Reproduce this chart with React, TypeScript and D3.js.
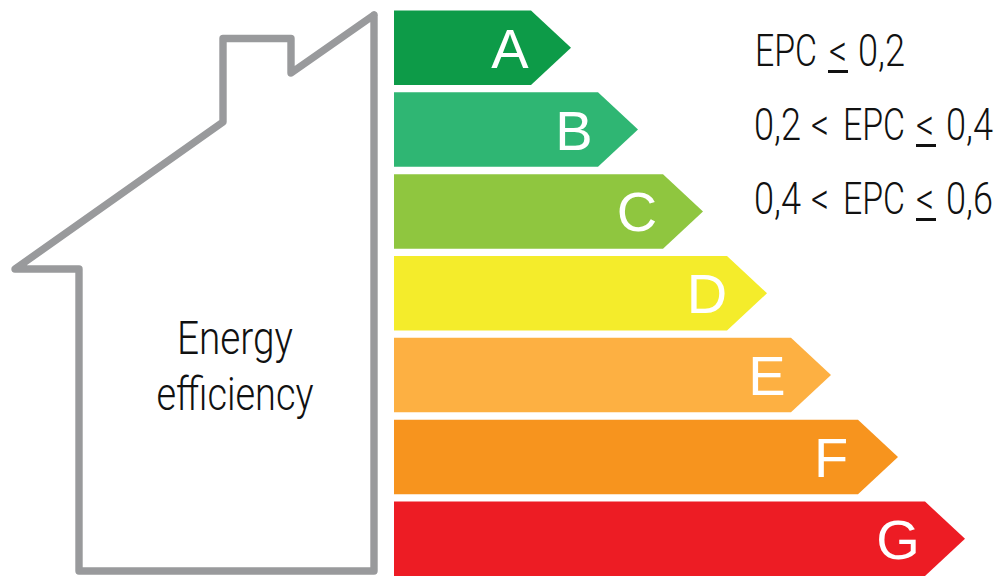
import React from "react";
import * as d3 from "d3";

const ratings = ["A", "B", "C", "D", "E", "F", "G"];
const barLengths = [137, 204, 269, 333, 397, 464, 531];
const barColors = ["#0d9b48", "#2fb673", "#8fc63f", "#f4ec2b", "#fdb042", "#f7941e", "#ed1c24"];
const houseWords = ["Energy", "efficiency"];
const epcRowOne = ["EPC", "<", "0,2"];
const epcRowTwo = ["0,2", "<", "EPC", "<", "0,4"];
const epcRowThree = ["0,4", "<", "EPC", "<", "0,6"];

const letterOffsets = [-21, -24, -26, -20, -24, -27, -27];
const houseOutline: [number, number][] = [
  [374, 15], [374, 571], [79, 571], [79, 269], [15, 269],
  [223, 122], [223, 38.5], [291, 38.5], [291, 73], [374, 15],
];
const houseWordLayout = [
  { baseline: 354, width: 116 },
  { baseline: 410, width: 157 },
];
const narrowFont = "Roboto, 'Liberation Sans', sans-serif";

function runWidth(t: string) {
  return t === "EPC" ? 62 : t === "<" ? 18 : 47;
}

export default function App() {
  const x = d3.scaleLinear().domain([0, 600]).range([394, 994]);
  const y = d3.scaleBand<string>().domain(ratings).range([10.5, 576]).paddingInner(0.09).paddingOuter(0);
  const line = d3.line();
  const tip = 40;

  const rows = [
    { runs: epcRowOne, xs: [755, 829, 858], baseline: 66, rule: 828 },
    { runs: epcRowTwo, xs: [754, 811, 843, 916, 946], baseline: 140, rule: 916 },
    { runs: epcRowThree, xs: [754, 811, 843, 916, 946], baseline: 214, rule: 916 },
  ];

  return (
    <svg width={998} height={576} style={{ position: "absolute", left: 0, top: 0, background: "#fff" }}>
      <path d={line(houseOutline) ?? ""} fill="none" stroke="#999a9c" strokeWidth={7.4} strokeLinejoin="round" strokeLinecap="round" />
      {houseWords.map((word, i) => (
        <text
          key={word}
          x={235 - houseWordLayout[i].width / 2}
          y={houseWordLayout[i].baseline}
          textLength={houseWordLayout[i].width}
          lengthAdjust="spacingAndGlyphs"
          fontFamily={narrowFont}
          fontWeight={300}
          fontSize={47}
          fill="#111"
        >
          {word}
        </text>
      ))}
      {ratings.map((r, i) => {
        const top = y(r) ?? 0;
        const h = y.bandwidth();
        const end = x(barLengths[i]);
        const pts: [number, number][] = [
          [x(0), top], [end, top], [end + tip, top + h / 2], [end, top + h], [x(0), top + h],
        ];
        return (
          <g key={r}>
            <path d={(line(pts) ?? "") + "Z"} fill={barColors[i]} />
            <text x={end + letterOffsets[i]} y={top + h / 2 + 20} textAnchor="middle" fontFamily="'Liberation Sans', sans-serif" fontSize={56} fill="#fff">
              {r}
            </text>
          </g>
        );
      })}
      {rows.map((row) => (
        <g key={row.baseline}>
          {row.runs.map((t, j) => (
            <text
              key={j}
              x={row.xs[j]}
              y={row.baseline}
              textLength={runWidth(t)}
              lengthAdjust="spacingAndGlyphs"
              fontFamily={narrowFont}
              fontWeight={300}
              fontSize={44}
              fill="#111"
            >
              {t}
            </text>
          ))}
          <rect x={row.rule} y={row.baseline + 4} width={20} height={3} fill="#111" />
        </g>
      ))}
    </svg>
  );
}
